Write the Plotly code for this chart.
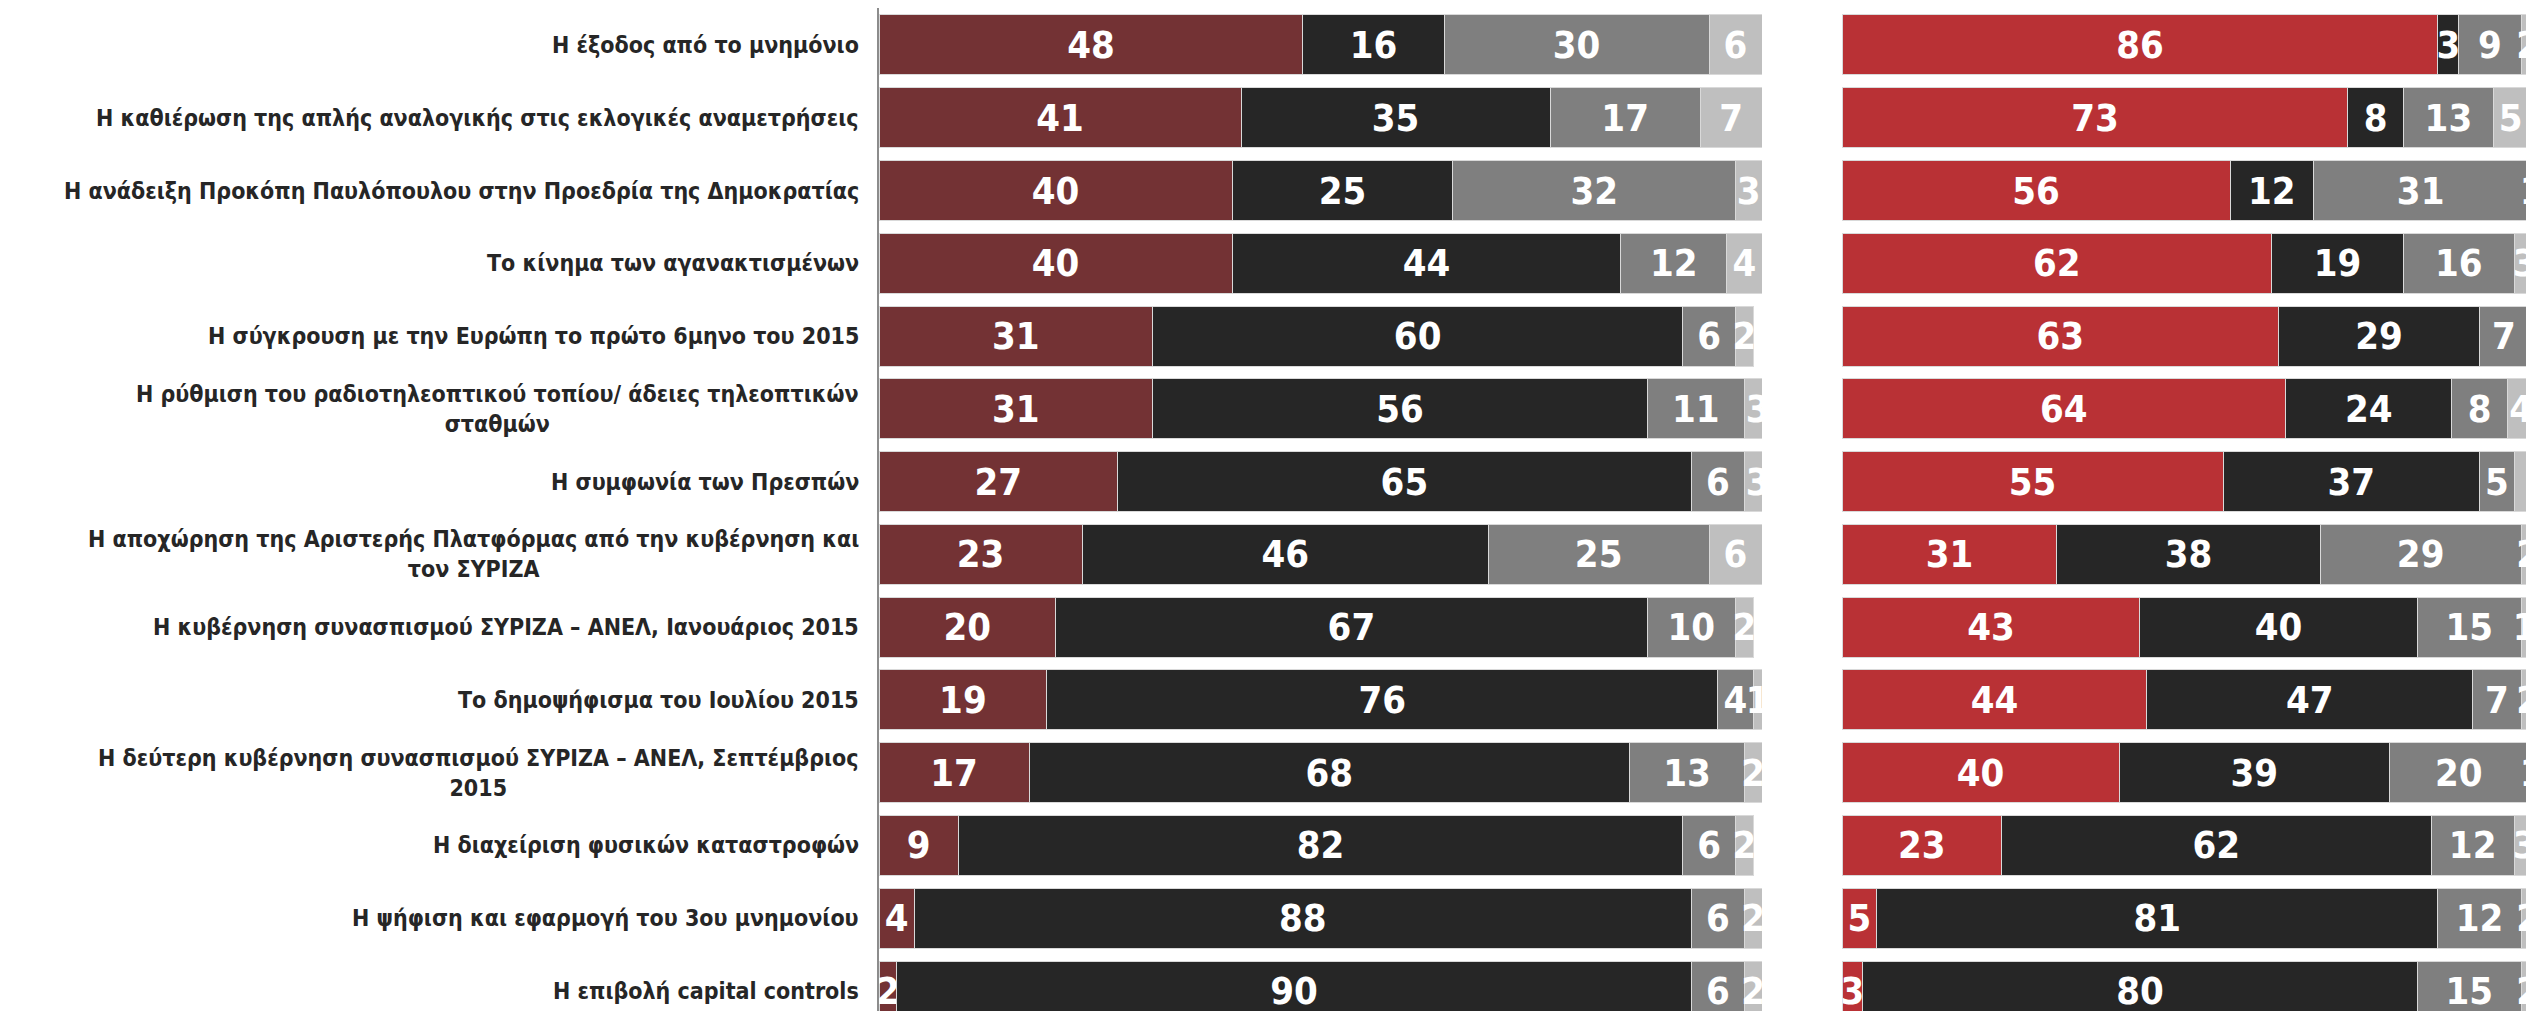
import plotly.graph_objects as go

categories = [
    "Η έξοδος από το μνημόνιο",
    "Η καθιέρωση της απλής αναλογικής στις εκλογικές αναμετρήσεις",
    "Η ανάδειξη Προκόπη Παυλόπουλου στην Προεδρία της Δημοκρατίας",
    "Το κίνημα των αγανακτισμένων",
    "Η σύγκρουση με την Ευρώπη το πρώτο 6μηνο του 2015",
    "Η ρύθμιση του ραδιοτηλεοπτικού τοπίου/ άδειες τηλεοπτικών<br>σταθμών",
    "Η συμφωνία των Πρεσπών",
    "Η αποχώρηση της Αριστερής Πλατφόρμας από την κυβέρνηση και<br>τον ΣΥΡΙΖΑ",
    "Η κυβέρνηση συνασπισμού ΣΥΡΙΖΑ – ΑΝΕΛ, Ιανουάριος 2015",
    "Το δημοψήφισμα του Ιουλίου 2015",
    "Η δεύτερη κυβέρνηση συνασπισμού ΣΥΡΙΖΑ – ΑΝΕΛ, Σεπτέμβριος<br>2015",
    "Η διαχείριση φυσικών καταστροφών",
    "Η ψήφιση και εφαρμογή του 3ου μνημονίου",
    "Η επιβολή capital controls",
]

series_names = ["Θετικά", "Αρνητικά", "Ούτε θετικά ούτε αρνητικά", "ΔΓ/ΔΑ"]

left_1 = [48, 41, 40, 40, 31, 31, 27, 23, 20, 19, 17, 9, 4, 2]
left_2 = [16, 35, 25, 44, 60, 56, 65, 46, 67, 76, 68, 82, 88, 90]
left_3 = [30, 17, 32, 12, 6, 11, 6, 25, 10, 4, 13, 6, 6, 6]
left_4 = [6, 7, 3, 4, 2, 3, 3, 6, 2, 1, 2, 2, 2, 2]

right_1 = [86, 73, 56, 62, 63, 64, 55, 31, 43, 44, 40, 23, 5, 3]
right_2 = [3, 8, 12, 19, 29, 24, 37, 38, 40, 47, 39, 62, 81, 80]
right_3 = [9, 13, 31, 16, 7, 8, 5, 29, 15, 7, 20, 12, 12, 15]
right_4 = [2, 5, 1, 3, 2, 4, 4, 2, 1, 2, 1, 3, 2, 2]

W, H = 2534, 1011
FONT = "Noto Sans Condensed, Noto Sans ExtraCondensed, DejaVu Sans Condensed, sans-serif"

left_colors = ["#733234", "#262626", "#7f7f7f", "#bfbfbf"]
right_colors = ["#b93135", "#262626", "#7f7f7f", "#bfbfbf"]

fig = go.Figure()

def add_panel(values_list, colors, xa, ya, clip):
    for name, vals, col in zip(series_names, values_list, colors):
        fig.add_trace(go.Bar(
            name=name, y=categories, x=vals, orientation="h",
            marker=dict(color=col, line=dict(color="#d9d9d9", width=1)),
            text=[str(v) for v in vals], textposition="inside",
            insidetextanchor="middle", textangle=0, constraintext="none",
            cliponaxis=clip,
            textfont=dict(family=FONT, size=38, color="white", weight="bold"),
            xaxis=xa, yaxis=ya, showlegend=False, hoverinfo="skip",
        ))

add_panel([left_1, left_2, left_3, left_4], left_colors, "x", "y", True)
add_panel([right_1, right_2, right_3, right_4], right_colors, "x2", "y2", False)

x_left0 = 871 / W
x_left1 = 1754 / W
x_right0 = 1834 / W
x_right1 = 2527 / W

yrange = [13.385, -0.508]

for cat in categories:
    fig.add_annotation(
        x=x_left0, xref="paper", y=cat, yref="y",
        text=cat, showarrow=False, xanchor="right", yanchor="middle",
        xshift=-18, align="center",
        font=dict(family=FONT, size=23, color="#262626", weight="bold"),
    )

fig.update_layout(
    width=W, height=H,
    margin=dict(l=0, r=0, t=0, b=0),
    barmode="stack", bargap=0.176,
    paper_bgcolor="white", plot_bgcolor="white",
    xaxis=dict(domain=[x_left0, x_left1], range=[0, 100], visible=False, fixedrange=True),
    xaxis2=dict(domain=[x_right0, x_right1], range=[0, 100], visible=False, fixedrange=True),
    yaxis=dict(domain=[0, 1], range=yrange, type="category", categoryorder="array",
               categoryarray=categories, showticklabels=False, ticks="",
               showgrid=False, zeroline=False, showline=True, linecolor="#8c8c8c",
               linewidth=2, anchor="x"),
    yaxis2=dict(domain=[0, 1], range=yrange, type="category", categoryorder="array",
                categoryarray=categories, showticklabels=False, ticks="",
                showgrid=False, zeroline=False, showline=False, anchor="x2"),
)

fig.write_html("out.html")
